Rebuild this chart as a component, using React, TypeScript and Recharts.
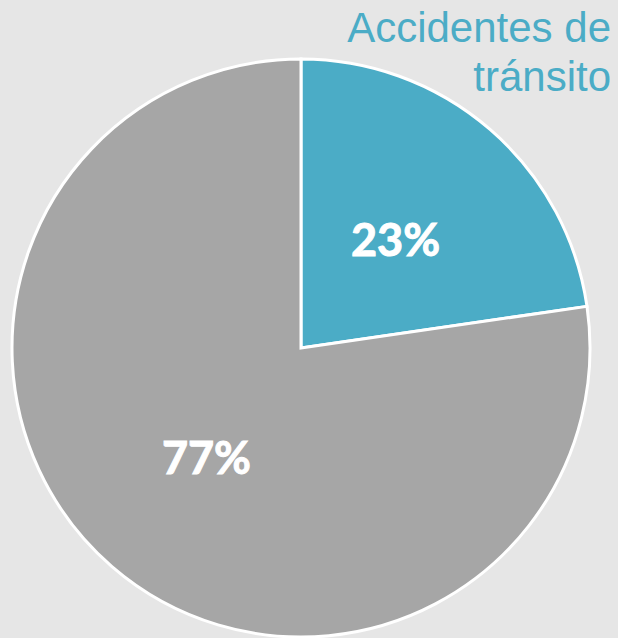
import { Cell, Pie, PieChart } from 'recharts'

const categories = ['Accidentes de tránsito', 'Otros']
const values = [22.7, 77.3]
const colors = ['#4bacc6', '#a6a6a6']
const titleLines = ['Accidentes de', 'tránsito']

const data = categories.map((name, i) => ({ name, value: values[i] }))

const RAD = Math.PI / 180

function renderLabel(props: any) {
  const { cx, cy, midAngle, outerRadius, percent } = props
  const r = outerRadius * 0.5
  const x = cx + r * Math.cos(-midAngle * RAD)
  const y = cy + r * Math.sin(-midAngle * RAD)
  return (
    <text
      x={x}
      y={y}
      fill="#ffffff"
      stroke="#ffffff"
      strokeWidth={1}
      textAnchor="middle"
      dominantBaseline="central"
      fontFamily="Lato, 'Open Sans', sans-serif"
      fontWeight={700}
      fontSize={45}
    >
      {`${Math.round(percent * 100)}%`}
    </text>
  )
}

export default function App() {
  return (
    <div style={{ position: 'fixed', left: 0, top: 0, width: 618, height: 638, background: '#e6e6e6' }}>
      <PieChart width={618} height={638} margin={{ top: 0, right: 0, bottom: 0, left: 0 }}>
        <Pie
          data={data}
          dataKey="value"
          nameKey="name"
          cx={301}
          cy={348}
          outerRadius={289}
          startAngle={90}
          endAngle={-270}
          stroke="#ffffff"
          strokeWidth={3}
          label={renderLabel}
          labelLine={false}
          isAnimationActive={false}
        >
          {data.map((d, i) => (
            <Cell key={d.name} fill={colors[i]} />
          ))}
        </Pie>
        <text
          x={611}
          y={42}
          textAnchor="end"
          fill="#4bacc6"
          fontFamily="'Liberation Sans', Arial, sans-serif"
          fontSize={42}
        >
          <tspan x={611} y={42}>{titleLines[0]}</tspan>
          <tspan x={611} y={91}>{titleLines[1]}</tspan>
        </text>
      </PieChart>
    </div>
  )
}
